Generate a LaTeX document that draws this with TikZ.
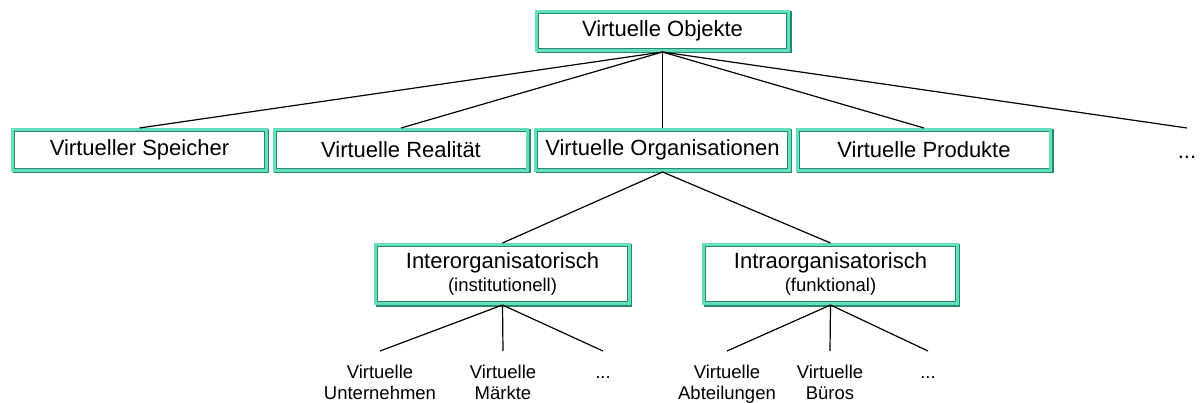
\documentclass[tikz,border=0pt]{standalone}
\usepackage{fontspec}
\setmainfont{Liberation Sans}
\usetikzlibrary{positioning,shadows}
\definecolor{objmint}{RGB}{102,221,187}
\definecolor{objshade}{RGB}{34,139,110}
\newcommand\subsize{\fontsize{18.5}{21}\selectfont}

\begin{document}
\begin{tikzpicture}[
x=1pt,y=1pt,
obj/.style={draw=objmint,line width=3pt,fill=white,inner sep=0pt,outer sep=1.5pt,
  minimum width=253.5pt,minimum height=41pt,align=center,font=\fontsize{22}{23}\selectfont,
  general shadow={draw=objshade,line width=3pt,shadow xshift=1.5pt,shadow yshift=-1.5pt},
  path picture={\draw[objshade,line width=.6pt]
    ([shift={(1.8pt,-1.8pt)}]path picture bounding box.north west) rectangle
    ([shift={(-1.8pt,1.8pt)}]path picture bounding box.south east);}},
leaf/.style={align=center,inner sep=0pt,outer sep=14pt,anchor=north,font=\subsize},
more/.style={inner sep=0pt,outer sep=1.5pt,minimum height=41pt,text height=18.5pt,text depth=1.5pt,
  font=\fontsize{22}{23}\selectfont},
branch/.style={line width=1.2pt}
]
\useasboundingbox (0,0) rectangle (1204,-403);

% root
\node[obj,minimum width=252pt,minimum height=39pt] (top) at (662.5,-31) {Virtuelle Objekte};

% first level
\node[obj] (spei) at (139.5,-150) {Virtueller Speicher};
\node[obj] (real) [right=5pt of spei] {Virtuelle Realität};
\node[obj] (org) [right=5pt of real] {Virtuelle Organisationen};
\node[obj] (prod) [right=5pt of org] {Virtuelle Produkte};
\node[more] (etc) at (1187,-150) {...};

% kinds of virtual organisations
\node[obj,minimum height=59pt] (inter) at (502.5,-274) {Interorganisatorisch\\{\subsize(institutionell)}};
\node[obj,minimum height=59pt] (intra) at (830.5,-274) {Intraorganisatorisch\\{\subsize(funktional)}};

% leaves
\node[leaf] (unt) at (380,-351) {Virtuelle\\Unternehmen};
\node[leaf] (mkt) at (503,-351) {Virtuelle\\Märkte};
\node[leaf,text height=13.5pt] (interetc) at (603,-351) {...};
\node[leaf] (abt) at (727,-351) {Virtuelle\\Abteilungen};
\node[leaf] (bur) at (830,-351) {Virtuelle\\Büros};
\node[leaf,text height=13.5pt] (intraetc) at (928,-351) {...};

\draw[branch] (top.south) -- (spei.north);
\draw[branch] (top.south) -- (real.north);
\draw[branch] (top.south) -- (org.north);
\draw[branch] (top.south) -- (prod.north);
\draw[branch] (top.south) -- (etc.north);
\draw[branch] (org.south) -- (inter.north);
\draw[branch] (org.south) -- (intra.north);
\draw[branch] (inter.south) -- (unt.north);
\draw[branch] (inter.south) -- (mkt.north);
\draw[branch] (inter.south) -- (interetc.north);
\draw[branch] (intra.south) -- (abt.north);
\draw[branch] (intra.south) -- (bur.north);
\draw[branch] (intra.south) -- (intraetc.north);
\end{tikzpicture}
\end{document}
